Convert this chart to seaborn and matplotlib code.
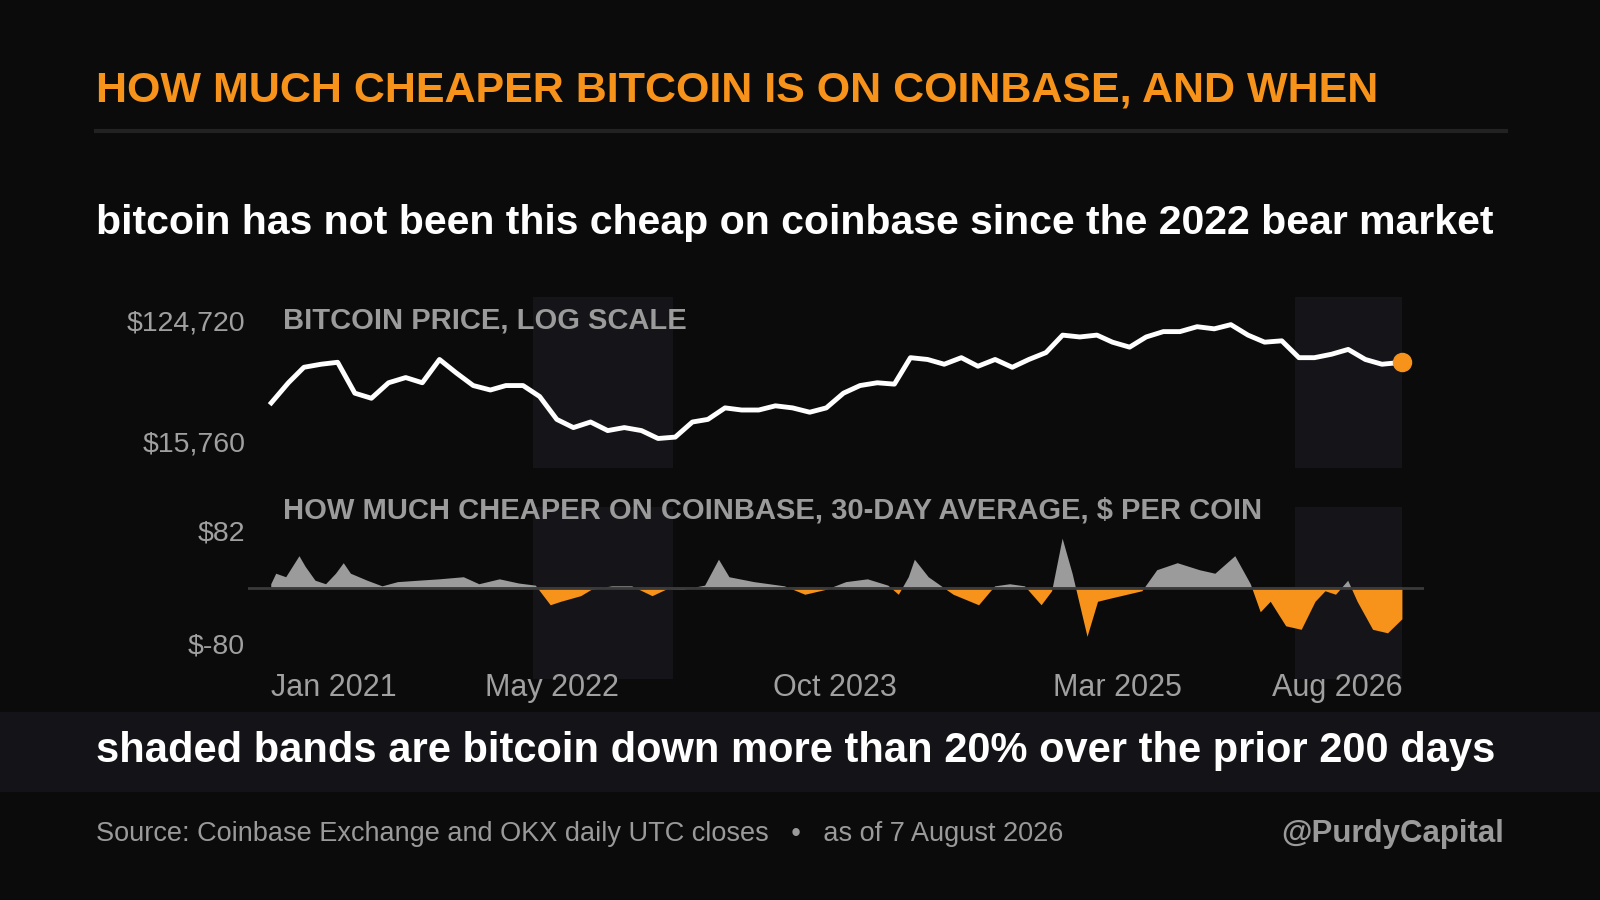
import pandas as pd
import numpy as np
import matplotlib.pyplot as plt
import matplotlib.ticker as mticker
import seaborn as sns
import warnings
warnings.filterwarnings('ignore')

# -------------------------------------------------------------
# DARK CARD SETTINGS
# -------------------------------------------------------------
plt.style.use('default')
plt.rcParams['figure.facecolor'] = '#0b0b0b'
plt.rcParams['axes.facecolor'] = '#0b0b0b'
plt.rcParams['text.color'] = '#ffffff'
plt.rcParams['xtick.color'] = '#a0a0a0'
plt.rcParams['ytick.color'] = '#a0a0a0'
plt.rcParams['font.family'] = ['Liberation Sans', 'DejaVu Sans']

# Monthly closes, Jan 2021 -> Aug 2026 (USD)
price_start = '2021-01-01'
price_values = [30500, 43000, 56000, 59000, 61000, 36000, 33000, 43000, 47000, 43000,
                64000, 51000, 41000, 38000, 41000, 41000, 34000, 23000, 20000, 22000,
                19000, 20000, 19000, 16600, 17000, 22000, 23000, 28000, 27000, 27000,
                29000, 28000, 26000, 28000, 36000, 41000, 43000, 42000, 66000, 64000,
                59000, 66000, 57000, 64000, 56000, 64000, 72000, 97000, 94000, 97000,
                86000, 79000, 94000, 103000, 103000, 112000, 108000, 116000, 97000, 86000,
                88000, 66000, 66000, 70000, 76000, 64000, 59000, 61000]

# 30-day average discount on Coinbase vs OKX ($ per coin)
gap_dates = ['2021-01-01', '2021-01-10', '2021-01-28', '2021-02-21', '2021-03-04', '2021-03-22',
             '2021-04-10', '2021-04-28', '2021-05-12', '2021-05-25', '2021-06-24', '2021-07-21',
             '2021-08-18', '2021-09-24', '2021-11-01', '2021-12-15', '2022-01-12', '2022-02-18',
             '2022-03-25', '2022-04-24', '2022-05-21', '2022-06-09', '2022-07-15', '2022-08-03',
             '2022-09-09', '2022-10-15', '2022-11-21', '2022-12-18', '2023-01-15', '2023-02-24',
             '2023-03-21', '2023-04-09', '2023-05-24', '2023-07-18', '2023-08-24', '2023-10-01',
             '2023-11-06', '2023-12-15', '2024-01-21', '2024-02-09', '2024-02-27', '2024-03-09',
             '2024-04-03', '2024-04-21', '2024-05-18', '2024-07-03', '2024-08-01', '2024-08-28',
             '2024-09-24', '2024-10-24', '2024-11-12', '2024-12-01', '2024-12-19', '2025-01-15',
             '2025-02-03', '2025-03-01', '2025-03-28', '2025-04-24', '2025-05-21', '2025-06-27',
             '2025-08-06', '2025-09-03', '2025-10-09', '2025-11-06', '2025-11-24', '2025-12-12',
             '2026-01-09', '2026-02-06', '2026-03-03', '2026-03-21', '2026-04-09', '2026-05-01',
             '2026-05-18', '2026-06-15', '2026-07-12', '2026-08-07']
gap_values = [5, 20, 15, 45, 30, 10, 5, 20, 35, 20, 10, 2,
              8, 10, 12, 15, 5, 12, 6, 3, -25, -20, -12, -3,
              2, 2, -12, -2, -3, 3, 40, 15, 8, 2, -10, -3,
              8, 12, 3, -10, 15, 40, 15, 5, -10, -25, 2, 5,
              2, -25, -5, 70, 20, -70, -20, -15, -10, -5, 25, 35,
              25, 20, 45, 5, -35, -20, -55, -60, -20, -5, -10, 10,
              -20, -60, -65, -45]

# Drawdown bands (>20% down over prior 200 days)
band_starts = ['2022-04-19', '2026-01-25']
band_ends = ['2022-12-28', '2026-08-07']

price_ticks = [15760, 124720]
gap_ticks = [-80, 82]
date_ticks = ['2021-01-01', '2022-05-23', '2023-10-17', '2025-03-10', '2026-08-07']
date_labels = ['Jan 2021', 'May 2022', 'Oct 2023', 'Mar 2025', 'Aug 2026']

ORANGE = '#f7931a'
GREY = '#9b9b9b'


def shade_bands(ax):
    for s, e in zip(band_starts, band_ends):
        ax.axvspan(pd.Timestamp(s), pd.Timestamp(e), color='#151519', zorder=0, lw=0)


def style_axis(ax):
    for sp in ax.spines.values():
        sp.set_visible(False)
    ax.tick_params(length=0, labelsize=20.5, pad=2)
    ax.set_xlabel('')
    ax.set_ylabel('')
    ax.set_xlim(pd.Timestamp('2020-11-20'), pd.Timestamp('2026-09-15'))


def generate_card():
    fig = plt.figure(figsize=(16, 9), dpi=100)

    # Header
    fig.text(0.06, 0.900, 'HOW MUCH CHEAPER BITCOIN IS ON COINBASE, AND WHEN',
             color=ORANGE, fontsize=31, fontweight='bold', va='center')
    fig.add_artist(plt.Line2D([0.06, 0.941], [0.855, 0.855], color='#222222', lw=3))
    fig.text(0.06, 0.752, 'bitcoin has not been this cheap on coinbase since the 2022 bear market',
             color='white', fontsize=29.5, fontweight='bold', va='center')

    # Price panel
    df_price = pd.DataFrame({'date': pd.date_range(price_start, periods=len(price_values), freq='MS'),
                             'price': price_values})
    df_price.loc[df_price.index[-1], 'date'] = pd.Timestamp('2026-08-07')
    ax1 = fig.add_axes([0.155, 0.480, 0.735, 0.190])
    shade_bands(ax1)
    sns.lineplot(data=df_price, x='date', y='price', color='white', lw=3.5, ax=ax1, zorder=3)
    ax1.plot(df_price['date'].iloc[-1], df_price['price'].iloc[-1], 'o', color=ORANGE,
             markersize=13, zorder=4)
    ax1.set_yscale('log')
    ax1.set_ylim(10030, 186000)
    ax1.yaxis.set_major_locator(mticker.FixedLocator(price_ticks))
    ax1.yaxis.set_minor_locator(mticker.NullLocator())
    ax1.yaxis.set_major_formatter(mticker.FuncFormatter(lambda v, p: f'${v:,.0f}'))
    ax1.set_xticks([])
    style_axis(ax1)
    ax1.text(0.03, 0.86, 'BITCOIN PRICE, LOG SCALE', transform=ax1.transAxes,
             color=GREY, fontsize=21, fontweight='bold', va='center')

    # Premium / discount panel
    df_gap = pd.DataFrame({'date': pd.to_datetime(gap_dates), 'gap': gap_values})
    ax2 = fig.add_axes([0.155, 0.246, 0.735, 0.191])
    shade_bands(ax2)
    ax2.fill_between(df_gap['date'], df_gap['gap'], 0, where=df_gap['gap'] >= 0,
                     interpolate=True, color=GREY, lw=0, zorder=2)
    ax2.fill_between(df_gap['date'], df_gap['gap'], 0, where=df_gap['gap'] <= 0,
                     interpolate=True, color=ORANGE, lw=0, zorder=2)
    ax2.axhline(0, color='#3a3a3a', lw=2, zorder=3)
    ax2.set_ylim(-129.6, 115.6)
    ax2.set_yticks(gap_ticks)
    ax2.set_yticklabels([f'${v}' for v in gap_ticks])
    style_axis(ax2)
    ax2.set_xticks(pd.to_datetime(date_ticks))
    ax2.set_xticklabels(date_labels, fontsize=22)
    ax2.tick_params(axis='x', pad=-4)
    ticks = ax2.get_xticklabels()
    ticks[0].set_ha('left')
    ticks[-1].set_ha('right')
    ax2.text(0.03, 0.98, 'HOW MUCH CHEAPER ON COINBASE, 30-DAY AVERAGE, $ PER COIN',
             transform=ax2.transAxes, color=GREY, fontsize=21, fontweight='bold', va='center')

    # Footer band
    fig.add_artist(plt.Rectangle((0, 0.120), 1, 0.089, transform=fig.transFigure,
                                 color='#141418', lw=0, zorder=0))
    fig.text(0.06, 0.166, 'shaded bands are bitcoin down more than 20% over the prior 200 days',
             color='white', fontsize=30, fontweight='bold', va='center')
    fig.text(0.06, 0.073, 'Source: Coinbase Exchange and OKX daily UTC closes   \u2022   as of 7 August 2026',
             color='#9a9a9a', fontsize=19.5, va='center')
    fig.text(0.94, 0.073, '@PurdyCapital', color='#9a9a9a', fontsize=22.5,
             fontweight='bold', va='center', ha='right')

    fig.savefig('out.png', dpi=100, facecolor=fig.get_facecolor())
    plt.close()


if __name__ == "__main__":
    generate_card()
